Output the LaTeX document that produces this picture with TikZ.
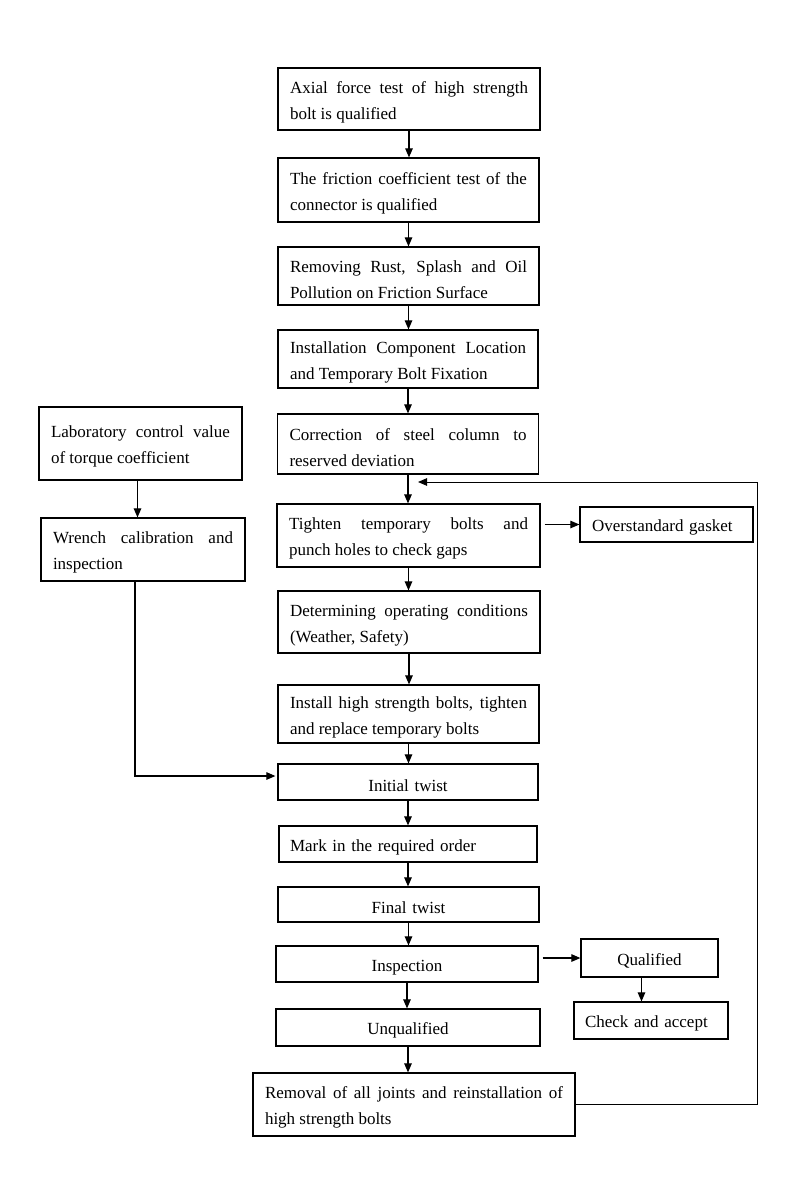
\documentclass[tikz,border=0pt]{standalone}
\usepackage{fontspec}
\setmainfont{Liberation Serif}
\usetikzlibrary{arrows.meta}
\begin{document}
\begin{tikzpicture}[x=1pt,y=1pt,
  every node/.style={font=\fontsize{17}{26}\selectfont},
  box/.style={draw, line width=1.2pt, inner xsep=12pt, inner ysep=0pt,
    execute at begin node={\rule{0pt}{18.5pt}}},
  jbox/.style={box, align=justify},
  cbox/.style={box, align=center},
  lbox/.style={box, align=left},
  arr/.style={line width=1.1pt, -{Triangle[length=9pt,width=7.5pt]}},
]
\useasboundingbox (0,0) rectangle (800,-1200);

% main column
\node[jbox, text width=238pt, minimum height=62pt] (a1) at (409,-99) {Axial force test of high strength\linebreak bolt is qualified};
\node[jbox, text width=237pt, minimum height=64pt] (a2) at (408.5,-190) {The friction coefficient test of the\linebreak connector is qualified};
\node[jbox, text width=237pt, minimum height=58pt] (a3) at (408.5,-276) {Removing Rust, Splash and Oil\linebreak Pollution on Friction Surface};
\node[jbox, text width=236pt, minimum height=58pt] (a4) at (408,-359) {Installation Component Location\linebreak and Temporary Bolt Fixation};
\node[jbox, text width=237pt, minimum height=60pt] (a5) at (408,-444) {Correction of steel column to\linebreak reserved deviation};
\node[jbox, text width=239pt, minimum height=63pt] (a6) at (408.5,-535.5) {Tighten temporary bolts and\linebreak punch holes to check gaps};
\node[jbox, text width=238pt, minimum height=62pt] (a7) at (409,-622) {Determining operating conditions\linebreak (Weather, Safety)};
\node[jbox, text width=237pt, minimum height=58pt] (a8) at (408.5,-714) {Install high strength bolts, tighten\linebreak and replace temporary bolts};
\node[cbox, text width=236pt, minimum height=36pt] (a9) at (408,-782) {Initial twist};
\node[lbox, text width=236pt, minimum height=36pt, inner xsep=11pt] (a10) at (408,-844) {Mark in the required order};
\node[cbox, text width=237pt, minimum height=35pt] (a11) at (408.5,-904.5) {Final twist};
\node[cbox, text width=238pt, minimum height=36pt] (a12) at (407,-964) {Inspection};
\node[cbox, text width=240pt, minimum height=37pt] (a13) at (408,-1027.5) {Unqualified};
\node[jbox, text width=298pt, minimum height=63pt] (a14) at (414,-1104.5) {Removal of all joints and reinstallation of\linebreak high strength bolts};

% left column
\node[jbox, text width=179pt, minimum height=73pt] (l1) at (140.5,-443.5) {Laboratory control value\linebreak of torque coefficient};
\node[jbox, text width=180pt, minimum height=63pt] (l2) at (143,-549.5) {Wrench calibration and\linebreak inspection};

% right column
\node[lbox, text width=149pt, minimum height=35pt] (r1) at (666.5,-524.5) {Overstandard gasket};
\node[cbox, text width=113pt, minimum height=38pt] (r2) at (649.5,-958) {Qualified};
\node[lbox, text width=132pt, minimum height=37pt, inner xsep=11pt] (r3) at (651,-1020.5) {Check and accept};

% main arrows
\foreach \p/\q in {a1/a2,a2/a3,a3/a4,a4/a5,a5/a6,a6/a7,a7/a8,a8/a9,a9/a10,a10/a11,a11/a12,a12/a13,a13/a14}
  \draw[arr] (\p.south) -- (\p.south |- \q.north);

% side arrows
\draw[arr] ([xshift=-3pt]l1.south) -- ([xshift=-3pt]l1.south |- l2.north);
\coordinate (wc) at (135,-776);
\draw[arr, shorten >=2pt] (l2.south -| wc) -- (wc) -- (wc -| a9.west);
\draw[arr, shorten <=4pt] (a6.east |- r1) -- (r1.west);
\draw[arr, shorten <=4pt] (a12.east |- r2) -- (r2.west);
\draw[arr] ([xshift=-8pt]r2.south) -- ([xshift=-8pt]r2.south |- r3.north);

% feedback loop
\coordinate (fbr) at (757,-482);
\coordinate (fbt) at (418,-482);
\draw[arr, line width=1pt] (a14.east) -| (fbr) -- (fbt);
\end{tikzpicture}
\end{document}
